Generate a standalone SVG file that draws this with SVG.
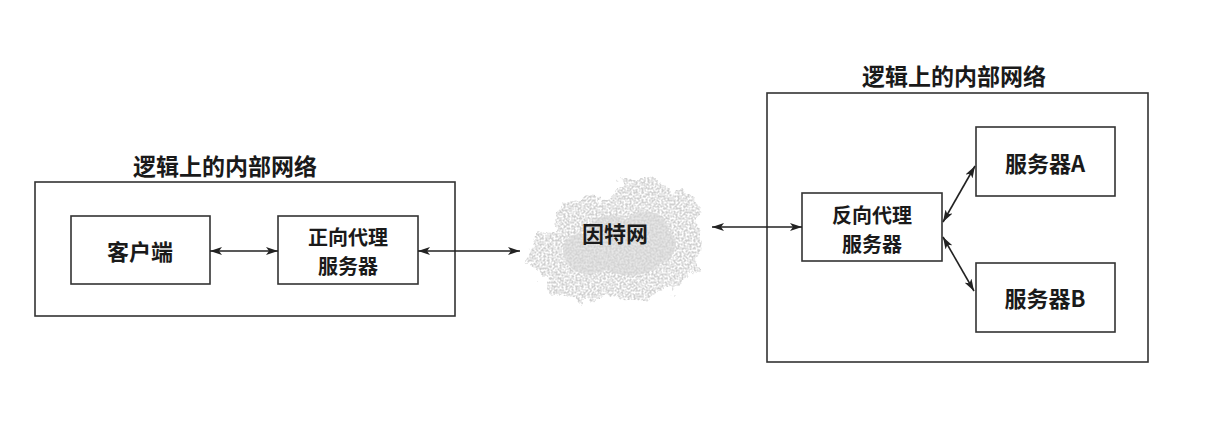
<svg xmlns="http://www.w3.org/2000/svg" width="1222" height="440" viewBox="0 0 1222 440">
<defs>
<style>
.box{fill:#fff;stroke:#333;stroke-width:1.6}
.frame{fill:none;stroke:#333;stroke-width:1.6}
.t{font-family:"Noto Sans CJK SC","Liberation Serif",serif;font-weight:700;font-size:22px;fill:#1a1a1a;text-anchor:middle;dominant-baseline:central}
.t2{font-family:"Noto Sans CJK SC","Liberation Serif",serif;font-weight:700;font-size:20px;fill:#1a1a1a;text-anchor:middle;dominant-baseline:central}
.ttl{font-family:"Noto Sans CJK SC","Liberation Serif",serif;font-weight:700;font-size:23px;fill:#1a1a1a;dominant-baseline:central}
.c{stroke:#222;stroke-width:1.6;fill:none;marker-start:url(#ah);marker-end:url(#ah)}
</style>
<marker id="ah" viewBox="0 0 12 8" refX="12" refY="4" markerWidth="12" markerHeight="8" markerUnits="userSpaceOnUse" orient="auto-start-reverse">
<path d="M0,0 L12,4 L0,8 L3,4 Z" fill="#222"/>
</marker>
<filter id="speck" x="-10%" y="-10%" width="120%" height="120%">
<feTurbulence type="fractalNoise" baseFrequency="0.5" numOctaves="2" seed="7" result="n"/>
<feColorMatrix in="n" type="matrix" values="0 0 0 0 0  0 0 0 0 0  0 0 0 0 0  0 0 0 2.6 -0.8" result="a"/>
<feComposite in="SourceGraphic" in2="a" operator="in"/>
</filter>
<filter id="soft" x="-20%" y="-20%" width="140%" height="140%">
<feTurbulence type="fractalNoise" baseFrequency="0.06" numOctaves="3" seed="2" result="w"/>
<feDisplacementMap in="SourceGraphic" in2="w" scale="22" xChannelSelector="R" yChannelSelector="G"/>
</filter>
</defs>
<rect width="1222" height="440" fill="#fff"/>
<g id="left-network">
<rect class="frame" x="35" y="182" width="420" height="134"/>
<text class="ttl" x="133" y="165">逻辑上的内部网络</text>
</g>
<g id="client">
<rect class="box" x="71" y="216" width="139" height="68"/>
<text class="t" x="140" y="250">客户端</text>
</g>
<g id="forward-proxy">
<rect class="box" x="278" y="216" width="140" height="68"/>
<text class="t2" x="348" y="236">正向代理</text>
<text class="t2" x="348" y="265">服务器</text>
</g>
<g id="internet">
<g filter="url(#speck)">
<g filter="url(#soft)">
<path d="M535,272 C522,252 538,232 556,230 C552,206 578,192 602,200 C614,176 652,170 668,190 C692,186 706,206 696,226 C712,242 700,276 680,282 C668,302 630,306 610,294 C588,306 552,300 535,272 Z" fill="#cfcfcf"/>
</g>
</g>
<path d="M565,258 C558,243 570,232 585,234 C590,216 612,210 626,220 C642,205 668,212 668,230 C682,238 676,260 660,264 C648,278 620,278 606,270 C590,278 570,274 565,258 Z" fill="#d6d6d6" opacity="0.6"/>
<text class="t" x="615" y="232">因特网</text>
</g>
<g id="right-network">
<rect class="frame" x="767" y="93" width="381" height="269"/>
<text class="ttl" x="862" y="75">逻辑上的内部网络</text>
</g>
<g id="reverse-proxy">
<rect class="box" x="802" y="193" width="140" height="68"/>
<text class="t2" x="872" y="214">反向代理</text>
<text class="t2" x="872" y="243">服务器</text>
</g>
<g id="server-a">
<rect class="box" x="976" y="127" width="139" height="69"/>
<text class="t" x="1045" y="162">服务器A</text>
</g>
<g id="server-b">
<rect class="box" x="976" y="263" width="139" height="69"/>
<text class="t" x="1045" y="297">服务器B</text>
</g>
<g id="connectors">
<line class="c" x1="210" y1="251" x2="278" y2="251"/>
<line class="c" x1="418" y1="251" x2="520" y2="251"/>
<line class="c" x1="712" y1="227" x2="802" y2="227"/>
<line class="c" x1="943" y1="222" x2="975" y2="166"/>
<line class="c" x1="943" y1="237" x2="974" y2="291"/>
</g>
</svg>
